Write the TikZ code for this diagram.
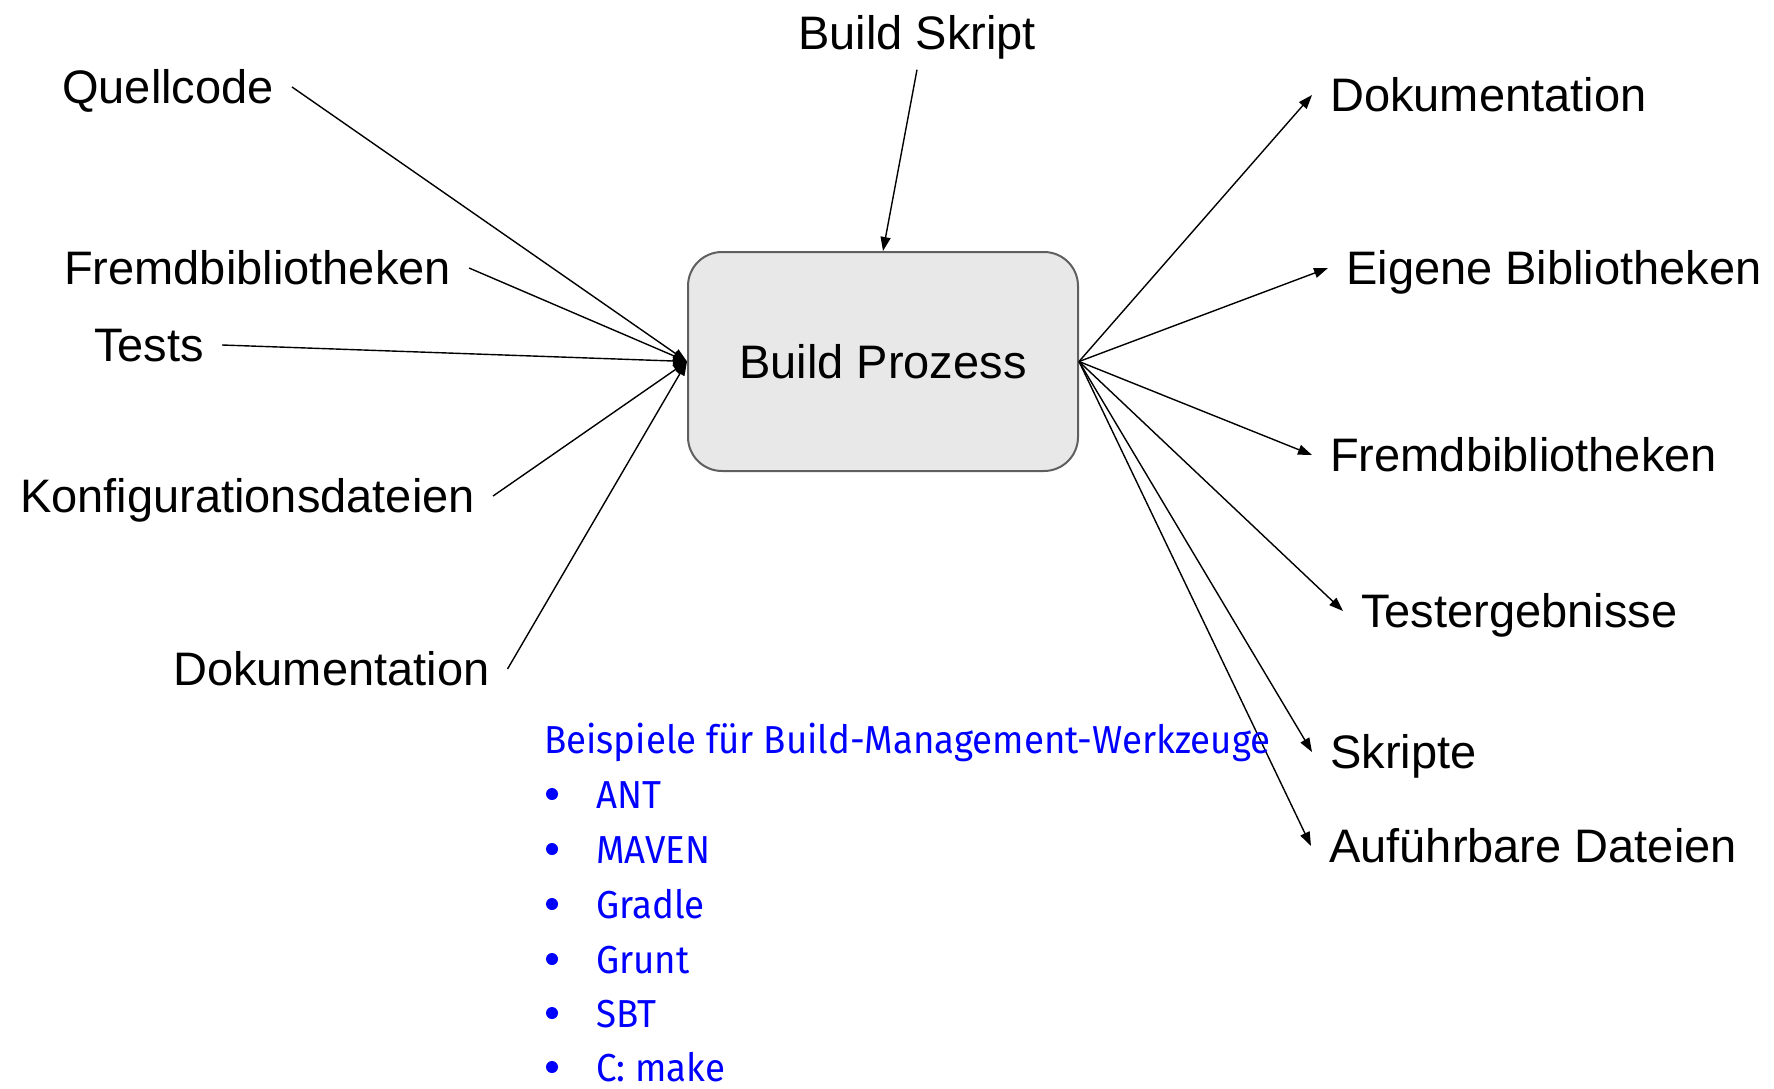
\documentclass[tikz,border=0pt]{standalone}
\usepackage{fontspec}
\setmainfont{Liberation Sans}
\newfontfamily\notefont{Fira Sans}[FakeStretch=0.94]
\usetikzlibrary{arrows.meta}
\definecolor{boxfill}{HTML}{E8E8E8}
\definecolor{boxline}{HTML}{5F5F5F}
\begin{document}
\begin{tikzpicture}[x=1pt,y=-1pt,
  lbl/.style={font=\fontsize{47}{51}\selectfont, inner xsep=18pt, inner ysep=0pt,
              text height=33pt, text depth=0pt},
  proc/.style={draw=boxline, fill=boxfill, line width=2pt, rounded corners=34pt,
               font=\fontsize{47}{51}\selectfont, inner sep=0pt},
  arr/.style={line width=1.4pt, -{Triangle[length=14pt,width=10pt]}},
  note/.style={text=blue, font=\notefont\fontsize{39}{43}\selectfont, inner sep=0pt,
               text height=28pt, text depth=0pt},
  dot/.style={circle, fill=blue, inner sep=0pt, minimum size=12pt}]
\useasboundingbox (0,0) rectangle (1774,1089);

% central process
\node[proc, minimum width=390pt, minimum height=219pt] (box) at (883,361.5) {Build Prozess};

% build script on top
\node[lbl, anchor=center, inner ysep=20pt] (skript) at (917,33) {Build Skript};

% inputs
\node[lbl, anchor=west] (quell)  at (44,87)   {Quellcode};
\node[lbl, anchor=west] (fremdL) at (46,268)  {Fremdbibliotheken};
\node[lbl, anchor=west] (tests)  at (76,345)  {Tests};
\node[lbl, anchor=west] (konf)   at (2,496)   {Konfigurationsdateien};
\node[lbl, anchor=west] (dokL)   at (155,669) {Dokumentation};

% outputs
\node[lbl, anchor=west] (dokR)    at (1312,95)  {Dokumentation};
\node[lbl, anchor=west] (eigene)  at (1328,268) {Eigene Bibliotheken};
\node[lbl, anchor=west] (fremdR)  at (1312,455) {Fremdbibliotheken};
\node[lbl, anchor=west] (testerg) at (1343,611) {Testergebnisse};
\node[lbl, anchor=west] (skripte) at (1312,752) {Skripte};
\node[lbl, anchor=west] (ausf)    at (1311,846) {Auführbare Dateien};

% connectors
\draw[arr] (skript.south) -- (box.north);
\foreach \n in {quell,fremdL,tests,konf,dokL}
  \draw[arr] (\n.east) -- (box.west);
\foreach \n in {dokR,eigene,fremdR,testerg,skripte,ausf}
  \draw[arr] (box.east) -- (\n.west);

% tool list
\node[note, anchor=west] (title) at (544,739) {Beispiele für Build-Management-Werkzeuge};
\foreach \i/\y/\t in {1/794/ANT, 2/849/MAVEN, 3/904/Gradle, 4/959/Grunt, 5/1013/SBT, 6/1067/C: make}{
  \node[dot] (b\i) at (552,\y) {};
  \node[note, anchor=west] (t\i) at (596,\y) {\t};
}
\end{tikzpicture}
\end{document}
